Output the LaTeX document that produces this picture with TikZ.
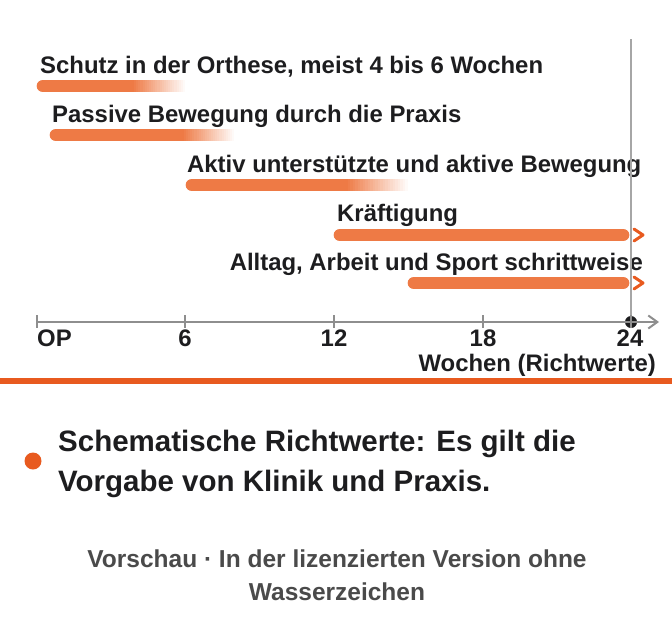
\documentclass[tikz,border=0pt]{standalone}
\usepackage{fontspec}
\setmainfont{Liberation Sans}
\usetikzlibrary{arrows.meta,positioning}
\definecolor{barc}{HTML}{EE7A45}
\definecolor{rulec}{HTML}{E85A1F}
\definecolor{axisc}{HTML}{8E8E8E}
\definecolor{linec}{HTML}{A6A6A6}
\definecolor{txtc}{HTML}{1D1D1F}
\definecolor{footc}{HTML}{4A4A4A}
\tikzstyle{lbl} = [anchor=base west, inner sep=0pt, text=txtc,
    font=\fontsize{23.9}{28}\selectfont\bfseries]
\tikzstyle{num} = [lbl, anchor=base]
\tikzstyle{bar} = [line width=12.7pt, line cap=round, barc]
\tikzstyle{chev} = [rulec, line width=3pt, line cap=round, line join=round]
\tikzstyle{tick} = [axisc, line width=2pt]
\tikzstyle{note} = [anchor=base west, inner sep=0pt, text=txtc,
    font=\fontsize{29.5}{36}\selectfont\bfseries]
\tikzstyle{foot} = [anchor=base, inner sep=0pt, text=footc,
    font=\fontsize{24.5}{30}\selectfont\bfseries]

\begin{document}
\begin{tikzpicture}[x=1pt, y=-1pt]
  \useasboundingbox (0,0) rectangle (672,616);
  % phases
  \node [lbl] (l1) at (40,73) {Schutz in der Orthese, meist 4 bis 6 Wochen};
  \node [lbl] (l2) at (52,122) {Passive Bewegung durch die Praxis};
  \node [lbl] (l3) at (187,172) {Aktiv unterstützte und aktive Bewegung};
  \node [lbl] (l4) at (337,221) {Kräftigung};
  \node [lbl, anchor=base east] (l5) at (643,270) {Alltag, Arbeit und Sport schrittweise};
  % bars that fade out
  \foreach \i/\xa/\xf/\xe/\y in {1/43/132/185/86, 2/56/182/234/135, 3/192/345/408/185} {
    \coordinate (a\i) at (\xa,\y);
    \coordinate (f\i) at (\xf,\y);
    \coordinate (e\i) at (\xe,\y);
    \draw [bar] (a\i) -- (f\i);
    \foreach \k in {0,...,24} {
      \pgfmathsetmacro\xl{\xf+(\xe-\xf)*\k/25}
      \pgfmathsetmacro\xr{\xf+(\xe-\xf)*(\k+1)/25+0.3}
      \pgfmathtruncatemacro\p{100-4*\k}
      \fill [barc!\p!white] (\xl,\y-6.35) rectangle (\xr,\y+6.35);
    }
  }
  % open bars
  \coordinate (a4) at (340,235);
  \coordinate (e4) at (623,235);
  \coordinate (a5) at (414,283);
  \coordinate (e5) at (623,283);
  \draw [bar] (a4) -- (e4);
  \draw [bar] (a5) -- (e5);
  \draw [chev] ([xshift=11pt,yshift=6pt]e4) -- ([xshift=20pt]e4) -- ([xshift=11pt,yshift=-6pt]e4);
  \draw [chev] ([xshift=11pt,yshift=6pt]e5) -- ([xshift=20pt]e5) -- ([xshift=11pt,yshift=-6pt]e5);
  % time axis
  \coordinate (top) at (631,39);
  \coordinate (o) at (37,322);
  \coordinate (x) at (659,322);
  \node [circle, fill=txtc, minimum size=12pt, inner sep=0pt] (d24) at (631,322) {};
  \draw [linec, line width=1.4pt] (top) -- ([yshift=-6pt]d24.center);
  \draw [axisc, line width=2pt, -{Straight Barb[length=9pt,width=13pt,line width=2pt]}] (o) -- (x);
  \foreach \x in {37, 185, 334, 483, 631} {
    \draw [tick] (\x,315) -- (\x,328);
  }
  \node [lbl] (n0) at (37,346) {OP};
  \node [num] (n6) at (185,346) {6};
  \node [num] (n12) at (334,346) {12};
  \node [num] (n18) at (483,346) {18};
  \node [num] (n24) at (630,346) {24};
  \node [lbl, anchor=base east] (unit) at (656,371) {Wochen (Richtwerte)};
  % divider
  \coordinate (r0) at (0,381);
  \coordinate (r1) at (672,381);
  \draw [rulec, line width=6pt] (r0) -- (r1);
  % note
  \node [circle, fill=rulec, minimum size=17pt, inner sep=0pt] (dot) at (33,461) {};
  \node [note] (s1) at (58,451) {Schematische Richtwerte: Es gilt die};
  \node [note] (s2) at (58,491) {Vorgabe von Klinik und Praxis.};
  % footer
  \node [foot] (v1) at (337,567) {Vorschau · In der lizenzierten Version ohne};
  \node [foot] (v2) at (337,600) {Wasserzeichen};
\end{tikzpicture}
\end{document}
